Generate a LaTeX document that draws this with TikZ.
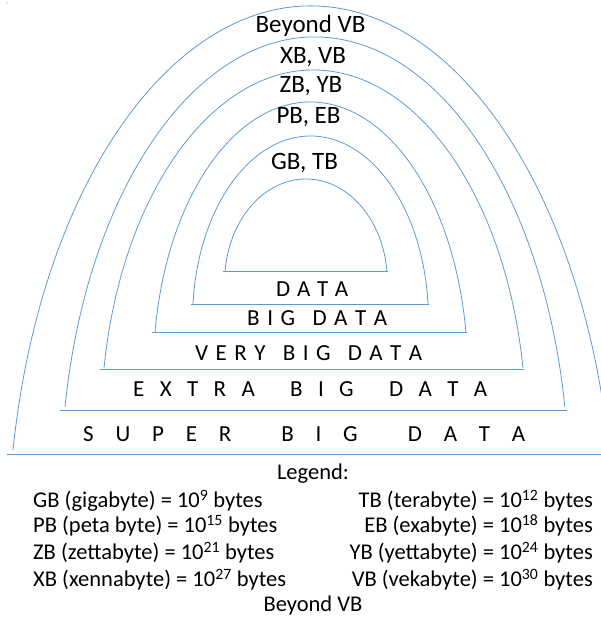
\documentclass[tikz,border=0pt]{standalone}
\usepackage{fontspec}
\setmainfont{Carlito}
\usepackage{xcolor}
\definecolor{archblue}{RGB}{91,155,213}
\newcommand{\spreadbox}[2]{\makebox[#1][s]{#2}}
\newcommand{\wgap}{\hspace{\stretch{2.3}}}

\begin{document}
\begin{tikzpicture}[x=1pt, y=1pt,
	arch/.style={draw=archblue, line width=0.8pt},
	floorline/.style={draw=archblue, line width=1pt},
	archlabel/.style={font=\fontsize{25}{25}\selectfont, anchor=base, inner sep=0pt},
	datalabel/.style={font=\fontsize{23}{23}\selectfont, anchor=base west, inner sep=0pt},
	legendtext/.style={font=\fontsize{22.5}{22.5}\selectfont, inner sep=0pt}]
	\useasboundingbox (0,0) rectangle (601,619);

	\fill[gray] (7,616) circle (0.6);

	\draw[arch] (225,347) arc[start angle=174.43, end angle=5.57, x radius=81.4, y radius=103];
	\draw[arch] (193,315) arc[start angle=175.3, end angle=4.7, x radius=117.9, y radius=183];
	\draw[arch] (155,287) arc[start angle=171.48, end angle=8.52, x radius=157.2, y radius=270];
	\draw[arch] (104,251) arc[start angle=170.35, end angle=9.65, x radius=212.5, y radius=358];
	\draw[arch] (65,212) arc[start angle=169.76, end angle=10.24, x radius=254, y radius=450];
	\draw[arch] (13,169) arc[start angle=169.41, end angle=10.59, x radius=303.2, y radius=544];

	\draw[floorline] (223,347) -- (388,347);
	\draw[floorline] (191,314) -- (429,314);
	\draw[floorline] (152,286) -- (467,286);
	\draw[floorline] (100,249) -- (524,249);
	\draw[floorline] (60,208) -- (567,208);
	\draw[floorline] (7,164) -- (601,164);

	\node[archlabel] (beyond) at (310.5,586) {Beyond VB};
	\node[archlabel] (xbvb) at (313,555) {XB, VB};
	\node[archlabel] (zbyb) at (311,526) {ZB, YB};
	\node[archlabel] (pbeb) at (308.5,495) {PB, EB};
	\node[archlabel] (gbtb) at (304.5,449) {GB, TB};

	\node[datalabel] (data) at (276,322) {\spreadbox{72pt}{D\hfill A\hfill T\hfill A}};
	\node[datalabel] (bigdata) at (247,293) {\spreadbox{140pt}{B\hfill I\hfill G\wgap D\hfill A\hfill T\hfill A}};
	\node[datalabel] (verybigdata) at (195,258) {\spreadbox{227pt}{V\hfill E\hfill R\hfill Y\wgap B\hfill I\hfill G\wgap D\hfill A\hfill T\hfill A}};
	\node[datalabel] (extrabigdata) at (133,222) {\spreadbox{354pt}{E\hfill X\hfill T\hfill R\hfill A\wgap B\hfill I\hfill G\wgap D\hfill A\hfill T\hfill A}};
	\node[datalabel] (superbigdata) at (83,177) {\spreadbox{442pt}{S\hfill U\hfill P\hfill E\hfill R\wgap B\hfill I\hfill G\wgap D\hfill A\hfill T\hfill A}};

	\node[legendtext, anchor=base] (legendhead) at (313,139) {Legend:};
	\node[legendtext, anchor=base west] (gbkey) at (33,111) {GB (gigabyte) = 10\textsuperscript{9} bytes};
	\node[legendtext, anchor=base east] (tbkey) at (593,111) {TB (terabyte) = 10\textsuperscript{12} bytes};
	\node[legendtext, anchor=base west] (pbkey) at (33,86) {PB (peta byte) = 10\textsuperscript{15} bytes};
	\node[legendtext, anchor=base east] (ebkey) at (593,86) {EB (exabyte) = 10\textsuperscript{18} bytes};
	\node[legendtext, anchor=base west] (zbkey) at (33,59) {ZB (zettabyte) = 10\textsuperscript{21} bytes};
	\node[legendtext, anchor=base east] (ybkey) at (593,59) {YB (yettabyte) = 10\textsuperscript{24} bytes};
	\node[legendtext, anchor=base west] (xbkey) at (33,32) {XB (xennabyte) = 10\textsuperscript{27} bytes};
	\node[legendtext, anchor=base east] (vbkey) at (593,32) {VB (vekabyte) = 10\textsuperscript{30} bytes};
	\node[legendtext, anchor=base] (beyondkey) at (313,7) {Beyond VB};
\end{tikzpicture}
\end{document}
